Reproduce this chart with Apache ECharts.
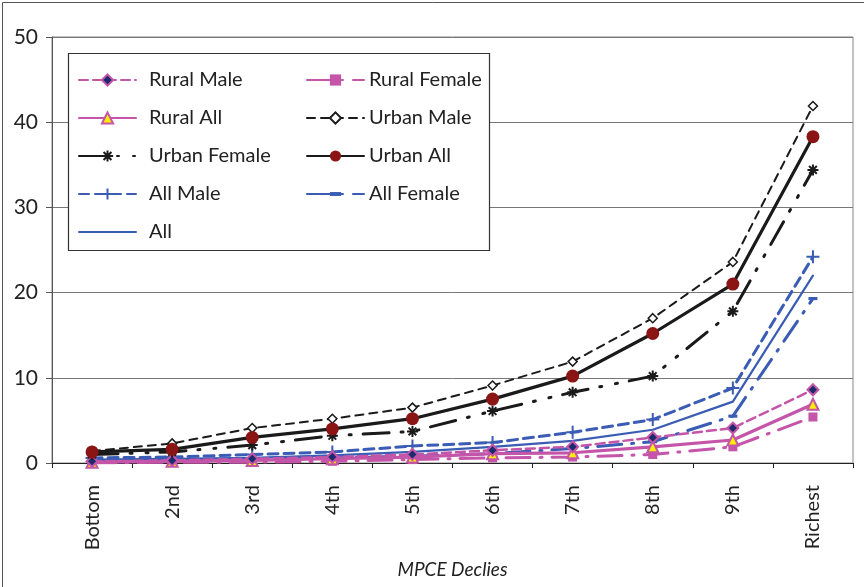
<!DOCTYPE html>
<html>
<head>
<meta charset="utf-8">
<script src="https://cdn.jsdelivr.net/npm/echarts@6/dist/echarts.min.js"></script>
<style>html,body{margin:0;padding:0;background:#fff}#c{width:864px;height:587px}</style>
</head>
<body>
<div id="c"></div>
<script>
const categories = ['Bottom','2nd','3rd','4th','5th','6th','7th','8th','9th','Richest'];
const ruralMale   = [0.2, 0.3, 0.5, 0.7, 1.0, 1.5, 1.9, 3.0, 4.1, 8.6];
const ruralFemale = [0.0, 0.1, 0.1, 0.2, 0.4, 0.6, 0.7, 1.0, 1.9, 5.4];
const ruralAll    = [0.1, 0.2, 0.3, 0.5, 0.7, 1.1, 1.2, 1.9, 2.7, 6.9];
const urbanMale   = [1.4, 2.3, 4.1, 5.2, 6.5, 9.1, 11.9, 17.0, 23.6, 41.9];
const urbanFemale = [1.0, 1.3, 2.1, 3.2, 3.7, 6.1, 8.3, 10.2, 17.8, 34.4];
const urbanAll    = [1.3, 1.6, 3.0, 4.0, 5.2, 7.5, 10.2, 15.2, 21.0, 38.3];
const allMale     = [0.6, 0.7, 1.0, 1.3, 2.0, 2.4, 3.6, 5.1, 8.8, 24.2];
const allFemale   = [0.2, 0.3, 0.4, 0.6, 0.8, 1.1, 1.7, 2.5, 5.5, 19.3];
const allAll      = [0.4, 0.5, 0.6, 0.9, 1.3, 1.9, 2.6, 3.9, 7.2, 22.0];
const yTicks = [0, 10, 20, 30, 40, 50];

const PINK = '#c455a8', BLUE = '#3a5cb4', BLACK = '#1a1a1a', RED = '#8b1515', NAVY = '#1c2a6e';
const asterisk = 'path://M0,5L10,5M5,0L5,10M1.5,1.5L8.5,8.5M8.5,1.5L1.5,8.5';
const plus = 'path://M0,5L10,5M5,0L5,10';
const bar = 'path://M0,0L0,0M8,8L8,8M0,2.6L8,2.6L8,5.4L0,5.4Z';

function line(name, data, color, width, dash, symbol, size, itemStyle, z, extra) {
  return Object.assign({
    name, type: 'line', data, z: z || 2,
    symbol: symbol, symbolSize: size,
    lineStyle: { color, width, type: dash || 'solid', cap: 'round' },
    itemStyle: Object.assign({ color }, itemStyle || {}),
    emphasis: { disabled: true }, animation: false
  }, extra || {});
}

const series = [
  line('All', allAll, BLUE, 2.2, 'solid', 'circle', 0, null, 2, { showSymbol: false }),
  line('All Female', allFemale, BLUE, 3, [24, 10, 2, 10], bar, 9, null, 2),
  line('All Male', allMale, BLUE, 3, [10, 6], plus, 13, { color: BLUE, borderColor: BLUE, borderWidth: 2 }, 2),
  line('Rural Female', ruralFemale, PINK, 3, [24, 10, 2, 10], 'rect', 9, null, 3),
  line('Rural All', ruralAll, PINK, 3.2, 'solid', 'triangle', 11, { color: '#ffee00', borderColor: PINK, borderWidth: 2 }, 3),
  line('Rural Male', ruralMale, PINK, 2.5, [9, 5], 'diamond', 11, { color: NAVY, borderColor: PINK, borderWidth: 2 }, 3),
  line('Urban Female', urbanFemale, BLACK, 3, [26, 12, 2, 14, 2, 12], asterisk, 11, { color: BLACK, borderColor: BLACK, borderWidth: 2 }, 4),
  line('Urban Male', urbanMale, BLACK, 2, [8, 6], 'diamond', 9, { color: '#fff', borderColor: BLACK, borderWidth: 1.5 }, 4),
  line('Urban All', urbanAll, BLACK, 3.2, 'solid', 'circle', 13, { color: RED, borderColor: RED, borderWidth: 0 }, 5)
];

const FONT = 'Lato';
function legend(left, names, pad) {
  return {
    orient: 'vertical', left, top: 70, padding: 0, itemWidth: 57, itemHeight: 14, itemGap: 18,
    textStyle: { fontFamily: FONT, fontSize: 20, color: '#222', padding: [0, 0, 0, pad] },
    selectedMode: false,
    data: names.map(n => n === 'All'
      ? { name: n, itemStyle: { color: 'rgba(0,0,0,0)', borderWidth: 0 } }
      : n)
  };
}

const option = {
  animation: false,
  backgroundColor: '#fff',
  grid: { left: 52, right: 11, top: 37, bottom: 124, show: true, borderColor: '#888', borderWidth: 1 },
  legend: [
    legend(78, ['Rural Male', 'Rural All', 'Urban Female', 'All Male', 'All'], 8),
    legend(306, ['Rural Female', 'Urban Male', 'Urban All', 'All Female'], 0)
  ],
  xAxis: {
    type: 'category', data: categories, boundaryGap: true,
    name: 'MPCE Declies', nameLocation: 'middle', nameGap: 97,
    nameTextStyle: { fontFamily: FONT, fontStyle: 'italic', fontSize: 19, color: '#222' },
    axisLine: { lineStyle: { color: '#222', width: 1 } },
    axisTick: { show: true, alignWithLabel: false, length: 5, lineStyle: { color: '#222' } },
    axisLabel: { rotate: 90, fontFamily: FONT, fontSize: 20, color: '#222', margin: 22 }
  },
  yAxis: {
    type: 'value', min: 0, max: 50, interval: 10,
    axisLine: { show: true, lineStyle: { color: '#555' } },
    axisTick: { show: true, length: 6, lineStyle: { color: '#555' } },
    splitLine: { show: true, lineStyle: { color: '#777', width: 1 } },
    axisLabel: { fontFamily: FONT, fontSize: 21, color: '#222', margin: 14,
      formatter: v => yTicks.indexOf(v) >= 0 ? String(v) : '' }
  },
  graphic: [
    { type: 'rect', left: 0, top: 0, shape: { x: 0.5, y: 0.5, width: 862, height: 585 },
      style: { fill: null, stroke: '#555', lineWidth: 1 }, silent: true, z: 0 },
    { type: 'rect', shape: { x: 68.5, y: 53.5, width: 421, height: 197 },
      style: { fill: '#fff', stroke: '#333', lineWidth: 1.2 }, silent: true, z: 1 }
  ],
  series
};
const chart = echarts.init(document.getElementById('c'), null, { renderer: 'canvas' });
chart.setOption(option);
</script>
</body>
</html>
